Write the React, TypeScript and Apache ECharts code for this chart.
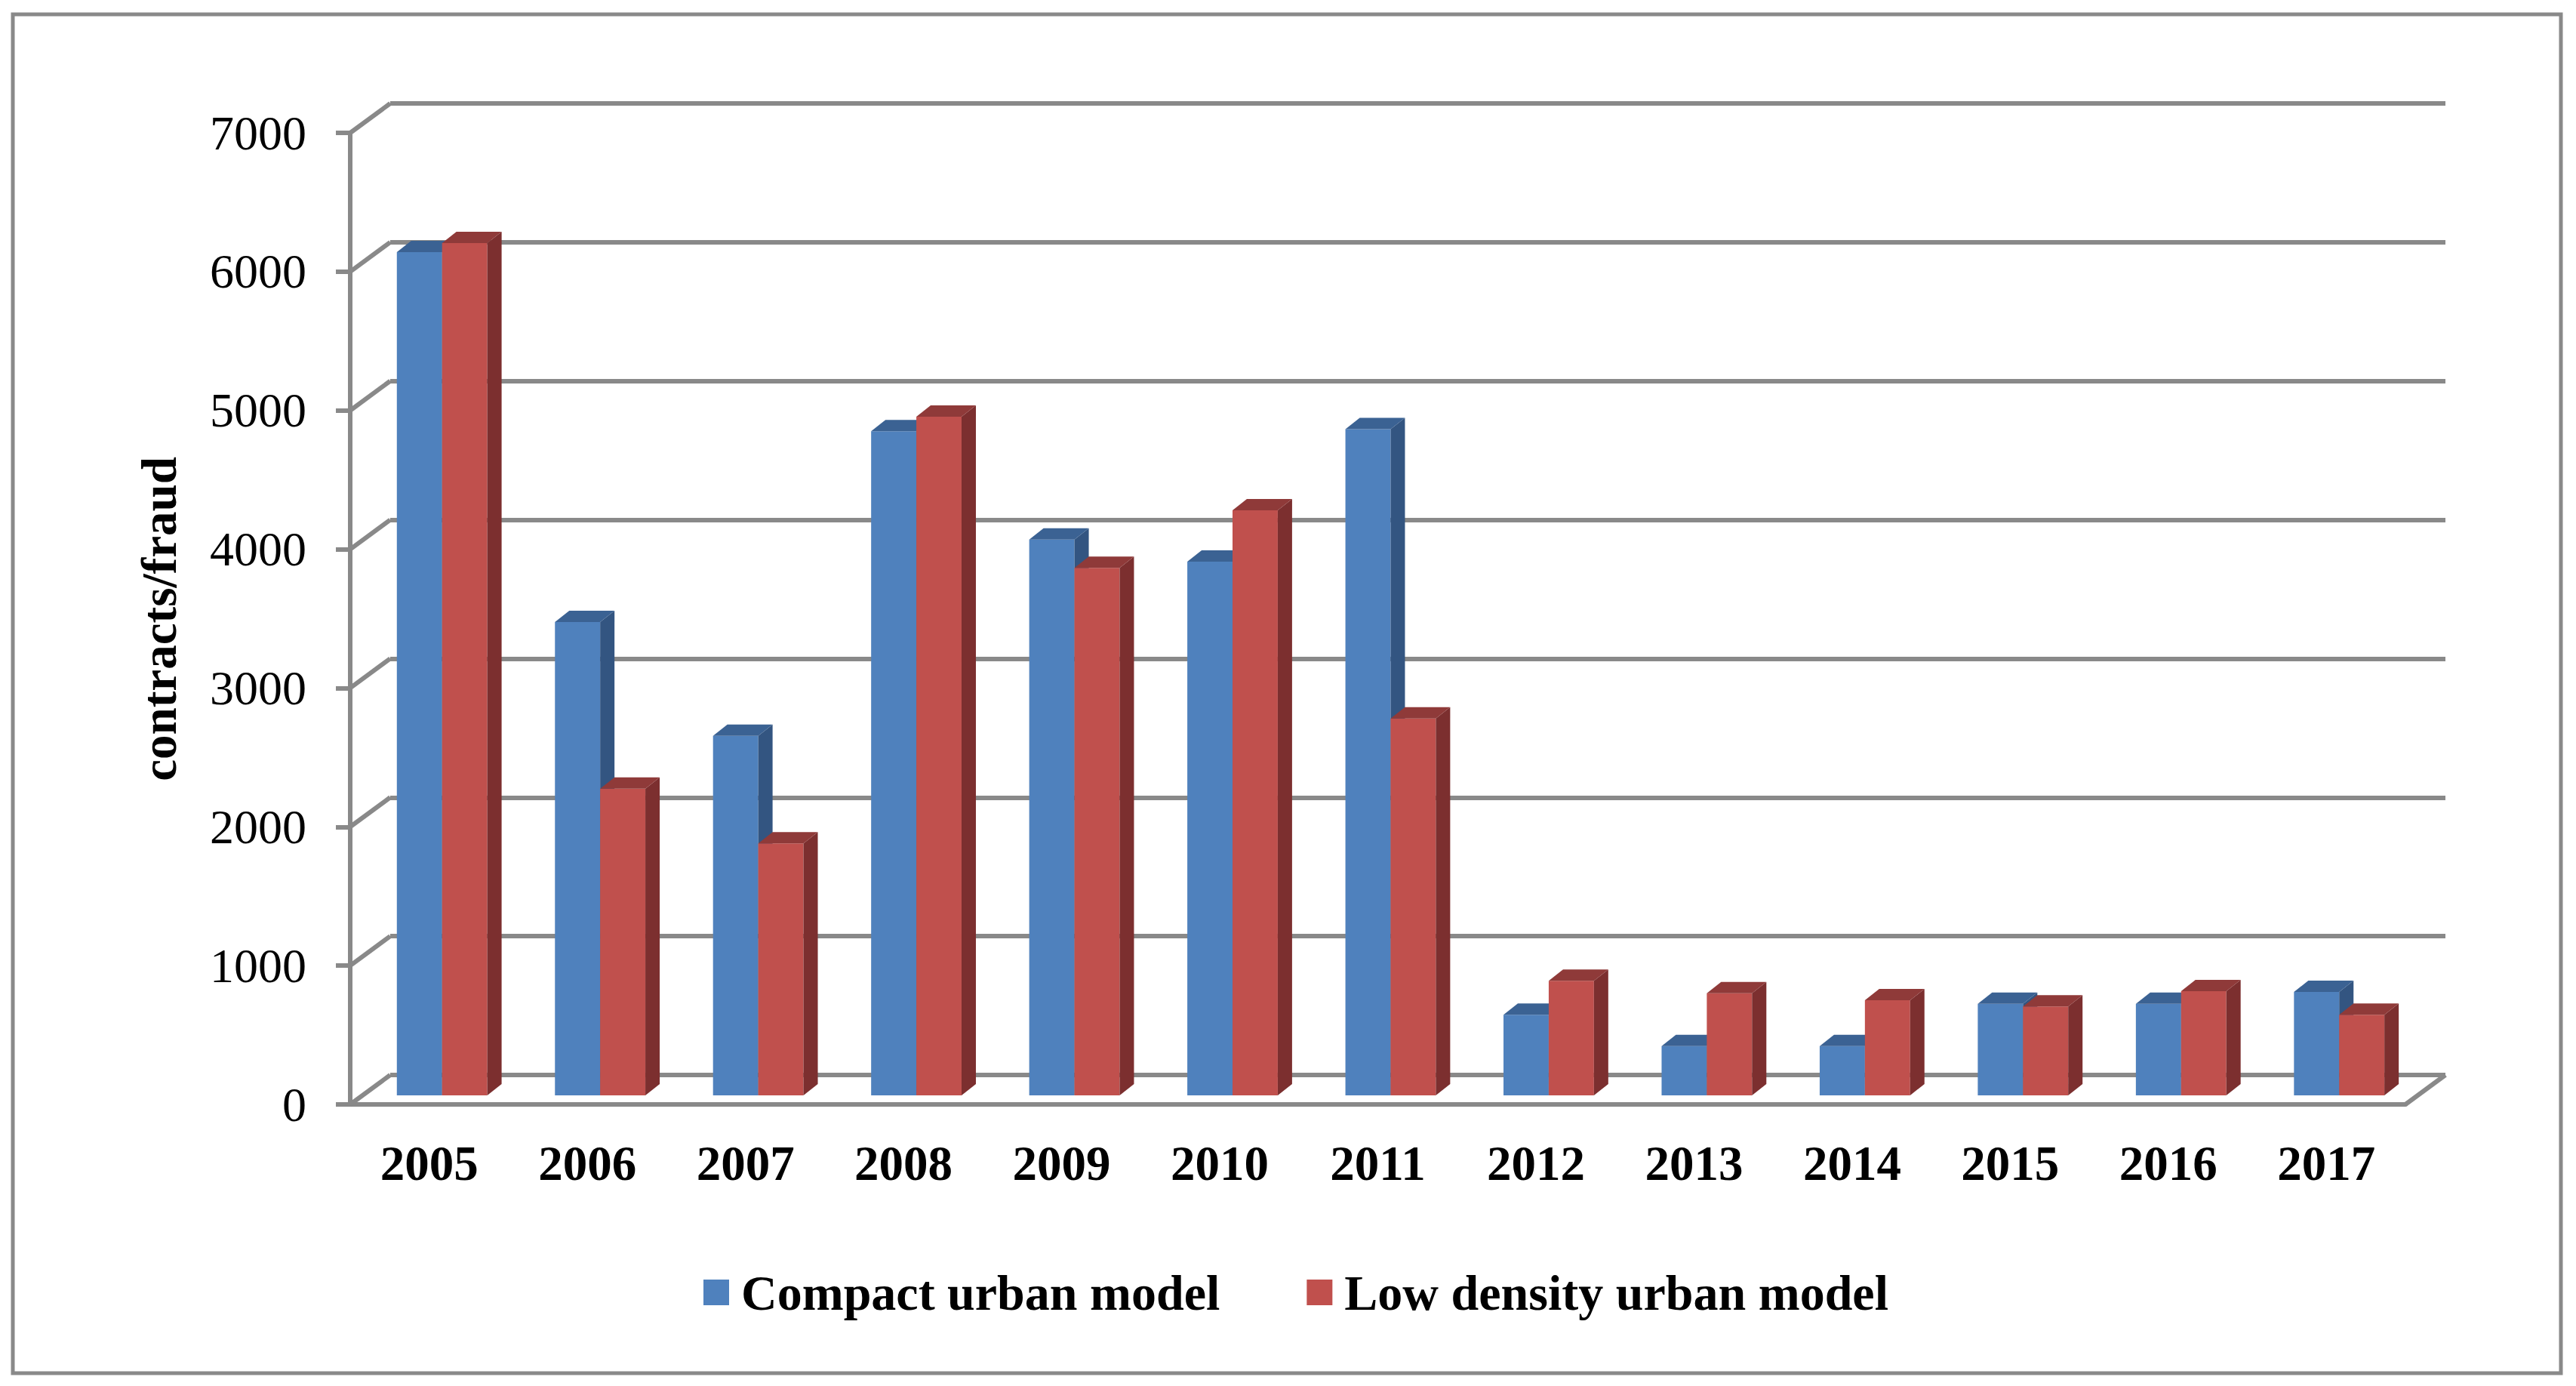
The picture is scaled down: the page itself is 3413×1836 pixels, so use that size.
import React, { useEffect, useRef } from 'react';
import * as echarts from 'echarts';

const years = ['2005', '2006', '2007', '2008', '2009', '2010', '2011', '2012', '2013', '2014', '2015', '2016', '2017'];
const compactUrban = [6075, 3410, 2590, 4785, 4005, 3845, 4800, 580, 355, 355, 660, 660, 745];
const lowDensityUrban = [6140, 2210, 1815, 4890, 3800, 4215, 2715, 825, 735, 685, 640, 750, 580];
const tickValues = [0, 1000, 2000, 3000, 4000, 5000, 6000, 7000];
const seriesNames = ['Compact urban model', 'Low density urban model'];
const Y_MIN = 0;
const Y_MAX = 7000;
const Y_STEP = 1000;

const GRAY = '#898989';
const FONT = '"Liberation Serif", "Times New Roman", serif';
const COLORS = [
  { front: '#4F81BD', top: '#3B6293', side: '#335581' },
  { front: '#C0504D', top: '#8F3A39', side: '#7C2F2F' },
];

export default function App() {
  const ref = useRef<HTMLDivElement>(null);
  useEffect(() => {
    document.body.style.margin = '0';
    const chart = echarts.init(ref.current as HTMLDivElement, null, { renderer: 'svg' });
    const DX = 53;
    const DY = 39;
    const gridLeft = 464;
    const gridTop = 176;
    const gridW = 2723;
    const gridH = 1287;
    const LW = 6;

    const barRender = (si: number) => (params: any, api: any) => {
      const i = api.value(0);
      const v = api.value(1);
      const base = api.coord([i, 0]);
      const top = api.coord([i, v]);
      const bw = api.size([1, 0])[0];
      const barW = bw * 0.286;
      const shiftX = bw * 0.081;
      const shiftY = 12;
      const ddx = bw * 0.0907;
      const ddy = 15;
      const x0 = base[0] + shiftX + (si === 0 ? -barW : 0);
      const yb = base[1] - shiftY;
      const yt = top[1] - shiftY;
      const c = COLORS[si];
      return {
        type: 'group',
        children: [
          { type: 'rect', shape: { x: x0, y: yt, width: barW, height: yb - yt }, style: { fill: c.front } },
          {
            type: 'polygon',
            shape: { points: [[x0 + barW, yt], [x0 + barW + ddx, yt - ddy], [x0 + barW + ddx, yb - ddy], [x0 + barW, yb]] },
            style: { fill: c.side },
          },
          {
            type: 'polygon',
            shape: { points: [[x0, yt], [x0 + ddx, yt - ddy], [x0 + barW + ddx, yt - ddy], [x0 + barW, yt]] },
            style: { fill: c.top },
          },
        ],
      };
    };

    const diagRender = (params: any, api: any) => {
      const v = api.value(1);
      const cs = params.coordSys;
      const y = api.coord([0, v])[1];
      const children: any[] = [
        { type: 'line', shape: { x1: cs.x, y1: y, x2: cs.x + DX, y2: y - DY }, style: { stroke: GRAY, lineWidth: LW } },
      ];
      if (v === 0) {
        children.push({
          type: 'line',
          shape: { x1: cs.x + cs.width, y1: y, x2: cs.x + cs.width + DX, y2: y - DY },
          style: { stroke: GRAY, lineWidth: LW },
        });
      }
      return { type: 'group', children };
    };

    const option: any = {
      animation: false,
      backgroundColor: '#ffffff',
      color: [COLORS[0].front, COLORS[1].front],
      grid: [
        { left: gridLeft, top: gridTop, width: gridW, height: gridH, containLabel: false },
        { left: gridLeft + DX, top: gridTop - DY, width: gridW, height: gridH, containLabel: false },
      ],
      xAxis: [
        {
          type: 'category',
          gridIndex: 0,
          data: years,
          boundaryGap: true,
          axisLine: { show: true, lineStyle: { color: GRAY, width: LW } },
          axisTick: { show: false },
          splitLine: { show: false },
          axisLabel: { fontFamily: FONT, fontWeight: 'bold', fontSize: 65, color: '#000', margin: 45, interval: 0 },
        },
        {
          type: 'category',
          gridIndex: 1,
          data: years,
          show: false,
        },
      ],
      yAxis: [
        {
          type: 'value',
          gridIndex: 0,
          min: Y_MIN,
          max: Y_MAX,
          interval: Y_STEP,
          axisLine: { show: true, lineStyle: { color: GRAY, width: LW } },
          axisTick: { show: true, length: 19, lineStyle: { color: GRAY, width: LW } },
          axisLabel: {
            fontFamily: FONT,
            fontSize: 64,
            color: '#000',
            margin: 58,
            formatter: (v: number) => String(v),
          },
          splitLine: { show: false },
        },
        {
          type: 'value',
          gridIndex: 1,
          min: Y_MIN,
          max: Y_MAX,
          interval: Y_STEP,
          axisLine: { show: false },
          axisTick: { show: false },
          axisLabel: { show: false },
          splitLine: { show: true, lineStyle: { color: GRAY, width: LW } },
        },
      ],
      legend: {
        left: 927,
        top: 1674,
        itemWidth: 34,
        itemHeight: 34,
        itemGap: 115,
        icon: 'rect',
        data: seriesNames,
        textStyle: { fontFamily: FONT, fontWeight: 'bold', fontSize: 66, color: '#000', padding: [0, 0, 0, 11] },
      },
      graphic: [
        {
          type: 'rect',
          shape: { x: 17, y: 19, width: 3376, height: 1800 },
          style: { fill: 'none', stroke: GRAY, lineWidth: 5 },
          silent: true,
        },
        {
          type: 'text',
          x: 211,
          y: 820,
          rotation: Math.PI / 2,
          style: {
            text: 'contracts/fraud',
            font: `bold 65px ${FONT}`,
            fill: '#000',
            textAlign: 'center',
            textVerticalAlign: 'middle',
          },
        },
      ],
      series: [
        {
          type: 'custom',
          name: 'diagonals',
          xAxisIndex: 0,
          yAxisIndex: 0,
          renderItem: diagRender,
          data: tickValues.map((v) => [0, v]),
          encode: { x: 0, y: 1 },
          clip: false,
          silent: true,
          z: 1,
        },
        {
          type: 'custom',
          name: seriesNames[0],
          xAxisIndex: 0,
          yAxisIndex: 0,
          renderItem: barRender(0),
          data: compactUrban.map((v, i) => [i, v]),
          encode: { x: 0, y: 1 },
          itemStyle: { color: COLORS[0].front },
          clip: false,
          z: 3,
        },
        {
          type: 'custom',
          name: seriesNames[1],
          xAxisIndex: 0,
          yAxisIndex: 0,
          renderItem: barRender(1),
          data: lowDensityUrban.map((v, i) => [i, v]),
          encode: { x: 0, y: 1 },
          itemStyle: { color: COLORS[1].front },
          clip: false,
          z: 4,
        },
      ],
    };
    chart.setOption(option);
    return () => chart.dispose();
  }, []);
  return <div ref={ref} style={{ position: 'absolute', left: 0, top: 0, width: 3413, height: 1836 }} />;
}
